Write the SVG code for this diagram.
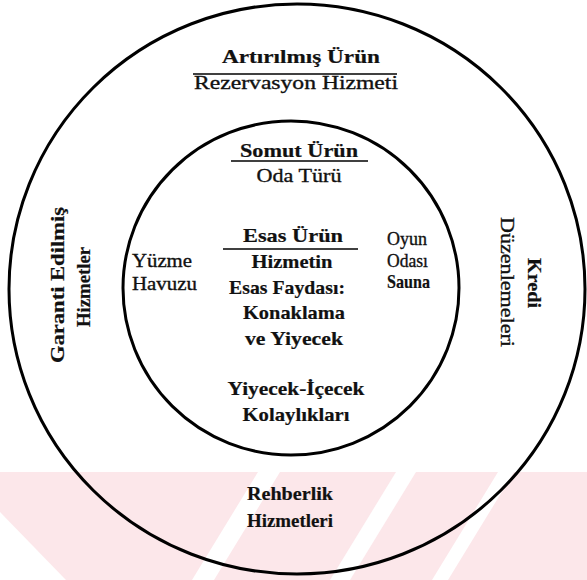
<svg xmlns="http://www.w3.org/2000/svg" width="587" height="580" viewBox="0 0 587 580">
  <style>
    .ring { fill: none; stroke: #000; stroke-width: 3; }
    .rule { stroke: #000; stroke-width: 1.6; }
    text { font-family: "Liberation Serif", "Times New Roman", serif; font-size: 19px; fill: #111; stroke: #111; stroke-width: 0.35; }
    .b { font-weight: bold; stroke-width: 0.2; }
    .c { text-anchor: middle; }
    .wm { fill: #fce7ea; }
    .gap { fill: #fff; }
  </style>

  <rect width="587" height="580" fill="#fff"/>

  <!-- faint background mark in the lower band -->
  <g id="watermark">
    <rect class="wm" x="0" y="472" width="587" height="108"/>
    <polygon class="gap" points="0,512 66,580 0,580"/>
    <polygon class="gap" points="258,472 280,472 214,580 192,580"/>
    <polygon class="gap" points="396,472 416,472 350,580 330,580"/>
    <polygon class="gap" points="498,472 514,472 448,580 432,580"/>
  </g>

  <!-- rings -->
  <g id="connectors">
    <ellipse id="outer-ring" class="ring" cx="297" cy="289" rx="288" ry="285"/>
    <ellipse id="inner-ring" class="ring" cx="291" cy="288" rx="168" ry="167"/>
  </g>

  <g id="augmented">
    <text class="c b" x="301" y="63" textLength="158" lengthAdjust="spacingAndGlyphs">Artırılmış Ürün</text>
    <line class="rule" x1="193" y1="74" x2="397" y2="74"/>
    <text class="c" x="296" y="89" textLength="204" lengthAdjust="spacingAndGlyphs">Rezervasyon Hizmeti</text>
  </g>

  <g id="tangible">
    <text class="c b" x="299" y="157" textLength="118" lengthAdjust="spacingAndGlyphs">Somut Ürün</text>
    <line class="rule" x1="231" y1="161" x2="368" y2="161"/>
    <text class="c" x="299" y="182" textLength="85" lengthAdjust="spacingAndGlyphs">Oda Türü</text>
  </g>

  <g id="core">
    <text class="c b" x="293" y="242" textLength="100" lengthAdjust="spacingAndGlyphs">Esas Ürün</text>
    <line class="rule" x1="223" y1="249" x2="358" y2="249"/>
    <text class="c b" x="292" y="268" textLength="81" lengthAdjust="spacingAndGlyphs">Hizmetin</text>
    <text class="c b" x="287" y="294" textLength="116" lengthAdjust="spacingAndGlyphs">Esas Faydası:</text>
    <text class="c b" x="294" y="319" textLength="102" lengthAdjust="spacingAndGlyphs">Konaklama</text>
    <text class="c b" x="294" y="345" textLength="98" lengthAdjust="spacingAndGlyphs">ve Yiyecek</text>
  </g>

  <g id="food">
    <text class="c b" x="296" y="395" textLength="137" lengthAdjust="spacingAndGlyphs">Yiyecek-İçecek</text>
    <text class="c b" x="296" y="421" textLength="107" lengthAdjust="spacingAndGlyphs">Kolaylıkları</text>
  </g>

  <g id="pool">
    <text x="132" y="267" textLength="60" lengthAdjust="spacingAndGlyphs">Yüzme</text>
    <text x="132" y="290" textLength="65" lengthAdjust="spacingAndGlyphs">Havuzu</text>
  </g>

  <g id="games">
    <text x="387" y="245" textLength="40" lengthAdjust="spacingAndGlyphs">Oyun</text>
    <text x="387" y="267" textLength="41" lengthAdjust="spacingAndGlyphs">Odası</text>
    <text class="b" x="387" y="288" textLength="43" lengthAdjust="spacingAndGlyphs">Sauna</text>
  </g>

  <g id="guidance">
    <text class="c b" x="290" y="500" textLength="86" lengthAdjust="spacingAndGlyphs">Rehberlik</text>
    <text class="c b" x="290" y="527" textLength="86" lengthAdjust="spacingAndGlyphs">Hizmetleri</text>
  </g>

  <g id="guarantee">
    <text class="c b" transform="translate(64,285) rotate(-90)" textLength="156" lengthAdjust="spacingAndGlyphs">Garanti Edilmiş</text>
    <text class="c b" transform="translate(90,287) rotate(-90)" textLength="80" lengthAdjust="spacingAndGlyphs">Hizmetler</text>
  </g>

  <g id="credit">
    <text class="c b" transform="translate(528,283) rotate(90)" textLength="50" lengthAdjust="spacingAndGlyphs">Kredi</text>
    <text class="c" transform="translate(501,282) rotate(90)" textLength="130" lengthAdjust="spacingAndGlyphs">Düzenlemeleri</text>
  </g>
</svg>
